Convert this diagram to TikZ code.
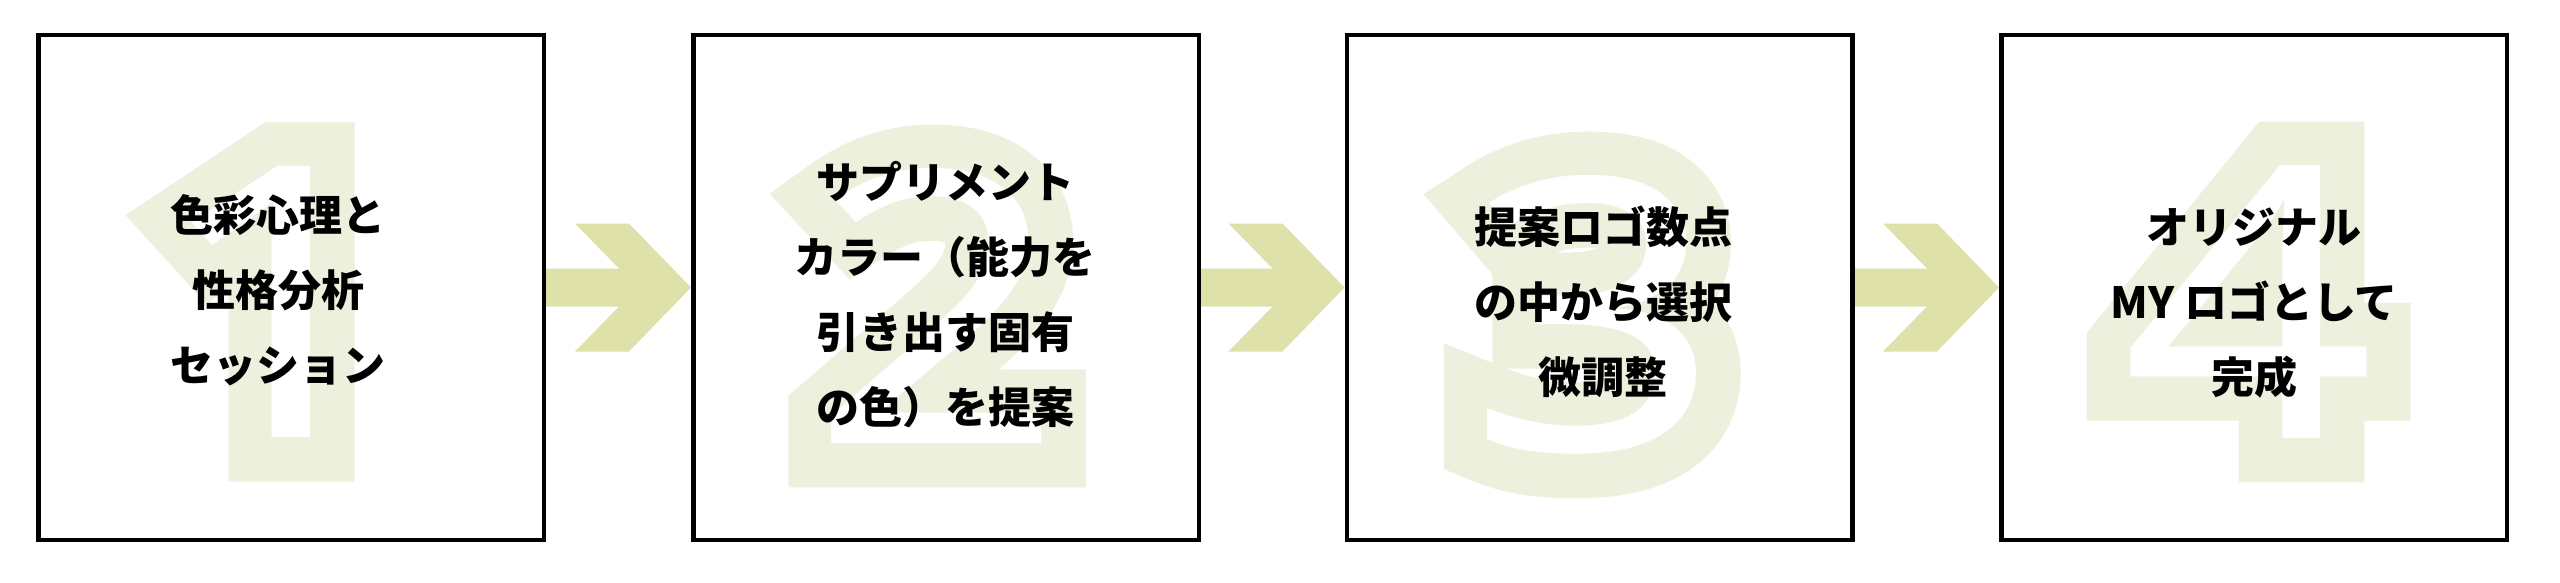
\documentclass[tikz,border=0pt]{standalone}
\usepackage{fontspec}
\newfontfamily\jpfont{Noto Sans CJK JP Black}
\newfontfamily\numinner{Noto Sans}[FakeStretch=1.17]
\newfontfamily\numouter{Noto Sans}[FakeStretch=1.17,FakeBold=23]
\definecolor{numcol}{RGB}{237,240,220}
\definecolor{arrcol}{RGB}{223,225,171}
\begin{document}
\begin{tikzpicture}[x=0.5pt,y=-0.5pt,
  stepbox/.style={draw=black, line width=2.25pt, minimum width=252.75pt, minimum height=252.25pt, inner sep=0pt},
  numo/.style={text=numcol, font=\numouter\fontsize{190}{190}\selectfont, inner sep=0pt, miter limit=2},
  numi/.style={text=white, font=\numinner\fontsize{190}{190}\selectfont, inner sep=0pt},
  jtext/.style={font=\jpfont\fontsize{21.5}{37.5}\selectfont, align=center, inner sep=0pt, text=black},
  flowarrow/.style={fill=arrcol}
]
\useasboundingbox (0,0) rectangle (2560,583);
\fill[white] (0,0) rectangle (2560,583);
% boxes (named, drawn later on top of the arrows)
\path (291,287.5) node[stepbox, draw=none] (b1) {}
      (946,287.5) node[stepbox, draw=none] (b2) {}
      (1599.5,287.5) node[stepbox, draw=none] (b3) {}
      (2254,287.5) node[stepbox, draw=none] (b4) {};
% arrows between boxes
\foreach \a/\b in {b1/b2, b2/b3, b3/b4} {
  \fill[flowarrow] ([shift={(0,-19)}]\a.east) -- ([shift={(-72,-19)}]\b.west)
    -- ([shift={(-116,-64)}]\b.west) -- ([shift={(-62,-64)}]\b.west)
    -- (\b.west) -- ([shift={(-62,64)}]\b.west) -- ([shift={(-116,64)}]\b.west)
    -- ([shift={(-72,19)}]\b.west) -- ([shift={(0,19)}]\a.east) -- cycle;
}
% box outlines
\node[stepbox] (B1) at (b1) {};
\node[stepbox] (B2) at (b2) {};
\node[stepbox] (B3) at (b3) {};
\node[stepbox] (B4) at (b4) {};
% big numerals
\node[numo] (n1o) at (280,302) {1};
\node[numi] (n1i) at (280,302) {1};
\node[numo] (n2o) at (938,306) {2};
\node[numi] (n2i) at (938,306) {2};
\node[numo] (n3o) at (1595,315) {3};
\node[numi] (n3i) at (1595,315) {3};
\node[numo] (n4o) at (2248.5,302) {4};
\node[numi] (n4i) at (2248.5,302) {4};
% texts
\node[jtext] (t1) at (278,290) {色彩心理と\\性格分析\\セッション};
\node[jtext] (t2) at (945,294.5) {サプリメント\\カラー（能力を\\引き出す固有\\の色）を提案};
\node[jtext] (t3) at (1603,302) {提案ロゴ数点\\の中から選択\\微調整};
\node[jtext] (t4) at (2254,303) {オリジナル\\MY ロゴとして\\完成};
\end{tikzpicture}
\end{document}
